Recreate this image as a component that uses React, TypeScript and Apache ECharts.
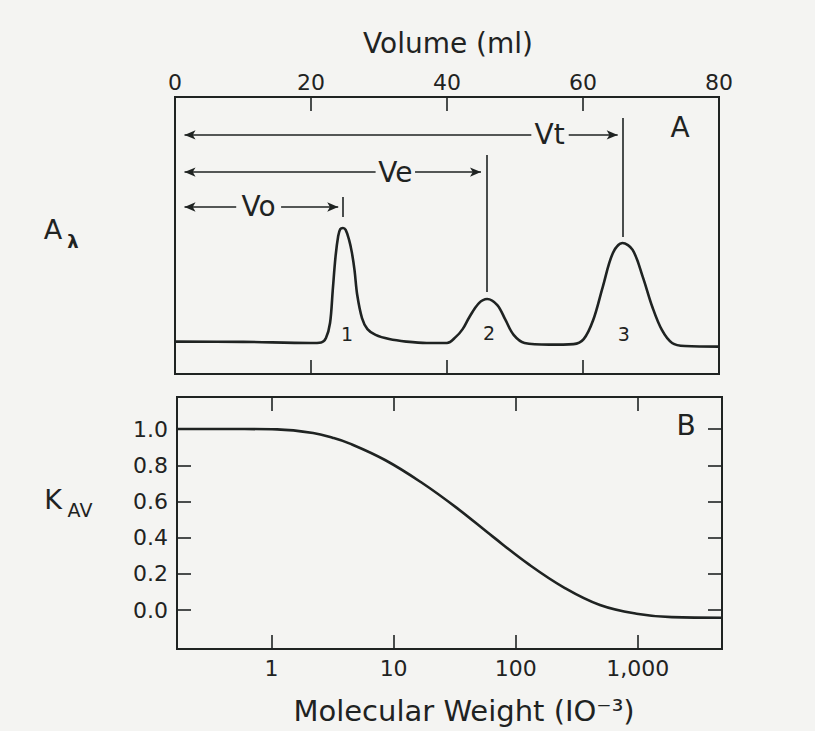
import React, { useEffect, useRef } from "react";
import * as echarts from "echarts";

// ---- Panel A: elution profile (Volume in ml vs absorbance, arbitrary units)
const volumeTicks = [0, 20, 40, 60, 80];
const volumeInnerTicks = [20, 40, 60];
const volume = [0, 10, 20, 21.5, 22.2, 22.8, 23.2, 23.6, 24.0, 24.3, 24.7, 25.1, 25.6, 26.0, 26.4, 26.8, 27.5, 28.3, 29.5, 31.5, 34, 37, 40, 41.3, 42.3, 43.3, 44.7, 45.9, 47.4, 48.6, 49.8, 51.4, 55, 58.6, 60.1, 61.5, 62.9, 64.4, 65.8, 67.3, 68.8, 70.2, 71.6, 73.1, 75, 80];
const absorbance = [0.117, 0.116, 0.112, 0.114, 0.130, 0.184, 0.303, 0.422, 0.498, 0.523, 0.527, 0.520, 0.484, 0.440, 0.375, 0.285, 0.202, 0.162, 0.141, 0.126, 0.117, 0.112, 0.112, 0.134, 0.162, 0.206, 0.256, 0.271, 0.249, 0.195, 0.141, 0.112, 0.106, 0.108, 0.126, 0.195, 0.314, 0.437, 0.473, 0.448, 0.350, 0.242, 0.159, 0.112, 0.101, 0.099];

// peak labels
const peakNames = ["1", "2", "3"];
const peakLabelVolume = [25.3, 46.2, 66.0];
const peakLabelLevel = [0.144, 0.148, 0.144];

// volume markers: Vo, Ve, Vt
const markerNames = ["Vo", "Ve", "Vt"];
const markerVolume = [24.7, 45.9, 65.8];
const arrowLevel = [0.603, 0.729, 0.863];
const markerTextVolume = [12.3, 32.4, 55.1];
const arrowGapStart = [9.0, 29.5, 52.4];
const arrowGapEnd = [15.6, 35.3, 57.9];
const arrowTip = [24.0, 45.0, 65.1];
const markerLineLow = [0.567, 0.296, 0.495];
const markerLineHigh = [0.639, 0.791, 0.924];

// ---- Panel B: Kav vs molecular weight (x 10^-3), log scale
const mwTicks = [1, 10, 100, 1000];
const kavTicks = [0.0, 0.2, 0.4, 0.6, 0.8, 1.0];
const molWeight = [0.168, 0.6, 1.11, 2.19, 3.16, 4.33, 8.5, 16.8, 33.1, 64.6, 129, 251, 490, 977, 1905, 4900];
const kav = [1.0, 1.0, 0.998, 0.978, 0.952, 0.921, 0.829, 0.706, 0.563, 0.407, 0.251, 0.123, 0.028, -0.02, -0.039, -0.042];

const INK = "#1f2322";
const FONT = "DejaVu Sans";

export default function App() {
  const ref = useRef<HTMLDivElement>(null);

  useEffect(() => {
    const chart = echarts.init(ref.current!, null, { renderer: "svg" });

    const arrowLines: any[] = [];
    for (let i = 0; i < markerNames.length; i++) {
      const y = arrowLevel[i];
      arrowLines.push([
        { coord: [1.4, y], symbol: "arrow", symbolSize: [7, 11] },
        { coord: [arrowGapStart[i], y], symbol: "none" },
      ]);
      arrowLines.push([
        { coord: [arrowGapEnd[i], y], symbol: "none" },
        { coord: [arrowTip[i], y], symbol: "arrow", symbolSize: [7, 11] },
      ]);
      arrowLines.push([
        { coord: [markerVolume[i], markerLineLow[i]], symbol: "none" },
        { coord: [markerVolume[i], markerLineHigh[i]], symbol: "none" },
      ]);
    }

    const ticks = (values: number[]) => ({
      show: true, inside: true, length: 14, customValues: values,
      lineStyle: { color: INK, width: 1.6 },
    });
    const noLine = () => ({ show: false, onZero: false });
    const labelBase = () => ({ color: INK, fontFamily: FONT, fontSize: 22 });
    const txt = (x: number, y: number, text: string, size: number, weight = "normal") => ({
      type: "text", x, y, silent: true,
      style: { text, fill: INK, font: `${weight} ${size}px '${FONT}'`, textAlign: "center", textVerticalAlign: "middle" },
    });

    const option: any = {
      animation: false,
      backgroundColor: "#f4f4f2",
      textStyle: { fontFamily: FONT, color: INK },
      grid: [
        { left: 175, top: 97, width: 544, height: 277, show: true, borderColor: INK, borderWidth: 2, backgroundColor: "transparent" },
        { left: 177, top: 397, width: 545, height: 252, show: true, borderColor: INK, borderWidth: 2, backgroundColor: "transparent" },
      ],
      xAxis: [
        {
          gridIndex: 0, type: "value", position: "top", min: volumeTicks[0], max: volumeTicks[volumeTicks.length - 1], interval: 20,
          axisLine: noLine(), axisTick: ticks(volumeInnerTicks), splitLine: { show: false },
          axisLabel: { ...labelBase(), margin: 4, customValues: volumeTicks },
        },
        {
          gridIndex: 0, type: "value", position: "bottom", min: 0, max: 80, interval: 20,
          axisLine: noLine(), axisTick: ticks(volumeInnerTicks), splitLine: { show: false }, axisLabel: { show: false },
        },
        {
          gridIndex: 1, type: "log", logBase: 10, position: "bottom", min: molWeight[0], max: molWeight[molWeight.length - 1],
          axisLine: noLine(),
          axisTick: ticks(mwTicks),
          splitLine: { show: false },
          axisLabel: {
            ...labelBase(), margin: 8, customValues: mwTicks,
            formatter: (v: number) => Math.round(v).toLocaleString("en-US"),
          },
        },
        {
          gridIndex: 1, type: "log", logBase: 10, position: "top", min: molWeight[0], max: molWeight[molWeight.length - 1],
          axisLine: noLine(),
          axisTick: ticks(mwTicks),
          splitLine: { show: false }, axisLabel: { show: false },
        },
      ],
      yAxis: [
        { gridIndex: 0, type: "value", min: 0, max: 1, show: false, axisLine: noLine() },
        {
          gridIndex: 1, type: "value", position: "left", min: -0.215, max: 1.177,
          axisLine: noLine(),
          axisTick: ticks(kavTicks),
          splitLine: { show: false },
          axisLabel: { ...labelBase(), margin: 9, customValues: kavTicks, formatter: (v: number) => v.toFixed(1) },
        },
        {
          gridIndex: 1, type: "value", position: "right", min: -0.215, max: 1.177,
          axisLine: noLine(),
          axisTick: ticks(kavTicks),
          splitLine: { show: false }, axisLabel: { show: false },
        },
      ],
      series: [
        {
          name: "Elution profile", type: "line", xAxisIndex: 0, yAxisIndex: 0,
          data: volume.map((v, i) => [v, absorbance[i]]),
          smooth: 0.35, showSymbol: false, symbol: "none",
          lineStyle: { color: INK, width: 2.6 },
          markLine: {
            silent: true, animation: false,
            symbol: ["none", "none"],
            label: { show: false },
            lineStyle: { color: INK, width: 1.6, type: "solid" },
            emphasis: { disabled: true },
            data: arrowLines,
          },
        },
        {
          name: "Marker labels", type: "scatter", xAxisIndex: 0, yAxisIndex: 0,
          symbolSize: 1, silent: true, itemStyle: { color: "rgba(0,0,0,0)", opacity: 1 },
          data: markerNames.map((n, i) => ({ name: n, value: [markerTextVolume[i], arrowLevel[i]] })),
          label: { show: true, position: "inside", formatter: "{b}", color: INK, opacity: 1, fontFamily: FONT, fontSize: 28, textBorderWidth: 0 },
        },
        {
          name: "Peak labels", type: "scatter", xAxisIndex: 0, yAxisIndex: 0,
          symbolSize: 1, silent: true, itemStyle: { color: "rgba(0,0,0,0)", opacity: 1 },
          data: peakNames.map((n, i) => ({ name: n, value: [peakLabelVolume[i], peakLabelLevel[i]] })),
          label: { show: true, position: "inside", formatter: "{b}", color: INK, opacity: 1, fontFamily: FONT, fontSize: 19, textBorderWidth: 0 },
        },
        {
          name: "Kav", type: "line", xAxisIndex: 2, yAxisIndex: 1,
          data: molWeight.map((m, i) => [m, kav[i]]),
          smooth: 0.4, showSymbol: false, symbol: "none",
          lineStyle: { color: INK, width: 2.6 },
        },
      ],
      graphic: [
        txt(448, 43, "Volume (ml)", 28),
        txt(680, 127, "A", 28),
        txt(686, 425, "B", 28),
        txt(53, 229, "A", 27),
        txt(73, 241, "λ", 18, "bold"),
        txt(53, 499, "K", 27),
        txt(80, 510, "AV", 19),
        txt(464, 711, "Molecular Weight (IO⁻³)", 29),
      ],
    };

    chart.setOption(option);
    return () => chart.dispose();
  }, []);

  return (
    <div
      ref={ref}
      style={{ position: "fixed", left: 0, top: 0, width: 815, height: 731, background: "#f4f4f2" }}
    />
  );
}
